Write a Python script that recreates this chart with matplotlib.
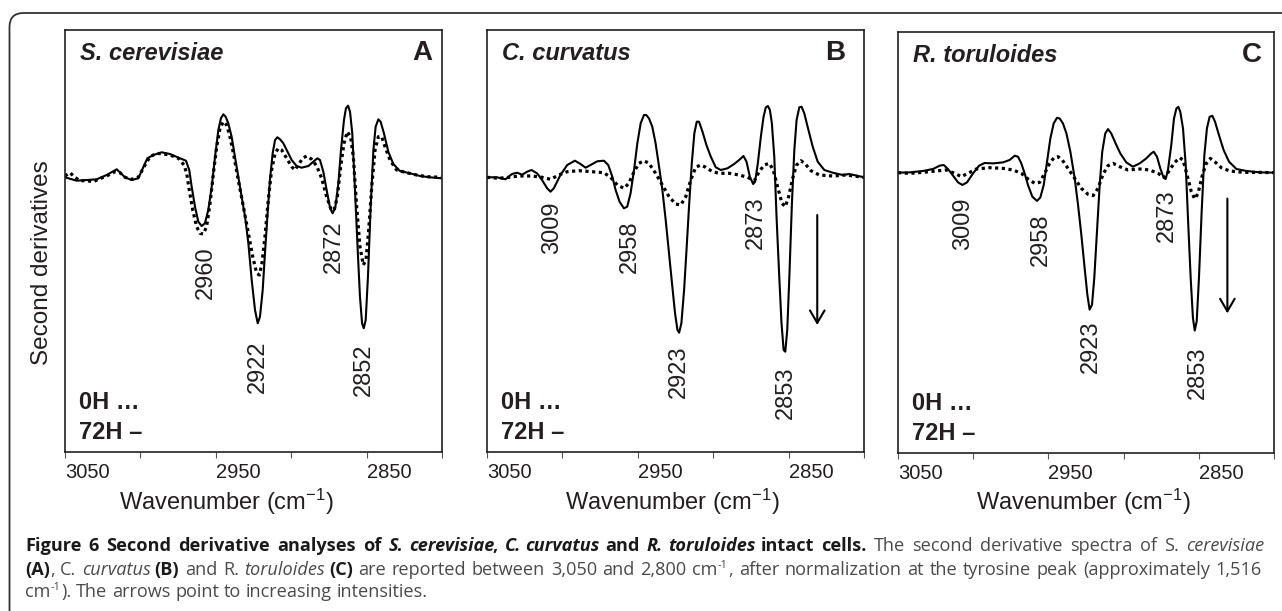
import matplotlib
matplotlib.use('Agg')
import matplotlib.pyplot as plt
from matplotlib.patches import FancyBboxPatch
from matplotlib.transforms import IdentityTransform

plt.rcParams['font.family'] = ['Liberation Sans', 'DejaVu Sans']
plt.rcParams['mathtext.default'] = 'regular'

# ---- data (second derivative, arbitrary units) ----
# S. cerevisiae, 72H (solid)
wn_sc_72h = [3050.0, 3042.3, 3035.6, 3029.0, 3022.4, 3015.7, 3010.2, 3005.8, 3001.4, 2995.4,
             2991.4, 2985.9, 2980.4, 2973.7, 2969.8, 2967.6, 2966.0, 2963.8, 2961.6, 2959.4,
             2957.2, 2955.0, 2952.7, 2950.5, 2948.3, 2946.6, 2945.0, 2943.5, 2941.7, 2939.5,
             2937.3, 2934.0, 2930.6, 2928.4, 2926.2, 2924.0, 2922.2, 2920.7, 2918.9, 2917.4,
             2915.8, 2914.1, 2912.3, 2910.7, 2909.2, 2907.4, 2905.2, 2903.0, 2899.7, 2896.4,
             2893.1, 2888.6, 2885.3, 2882.7, 2880.9, 2878.7, 2876.5, 2874.2, 2872.5, 2870.7,
             2868.7, 2867.0, 2865.0, 2863.7, 2862.3, 2861.0, 2859.5, 2857.7, 2855.9, 2854.4,
             2853.0, 2851.9, 2850.6, 2849.1, 2847.3, 2845.5, 2844.0, 2842.2, 2840.7, 2838.5,
             2835.6, 2832.3, 2827.9, 2821.2, 2814.6, 2808.0, 2800.2]
d2_sc_72h = [0.7, -2.7, -2.0, -1.3, 3.0, 8.7, 0.7, -2.0, -0.3, 19.7,
             23.0, 25.7, 24.0, 19.7, 17.3, 8.0, -8.7, -28.7, -43.7, -48.0,
             -45.3, -32.0, -8.7, 21.3, 48.0, 59.7, 63.7, 61.3, 54.7, 41.3,
             21.3, -8.7, -38.7, -65.3, -102.0, -132.0, -145.3, -138.7, -112.0, -75.3,
             -38.7, -2.0, 24.7, 38.0, 40.7, 38.7, 34.7, 28.0, 18.0, 12.0,
             10.3, 12.0, 16.3, 19.7, 18.0, 6.3, -12.0, -30.3, -35.3, -28.7,
             -5.3, 28.0, 58.0, 69.7, 72.3, 66.3, 44.7, -12.0, -72.0, -118.7,
             -145.3, -150.3, -142.0, -98.7, -28.7, 28.0, 51.3, 58.7, 56.3, 44.7,
             26.3, 14.0, 7.0, 4.7, 2.0, 0.7, -0.3]
# S. cerevisiae, 0H (dotted)
wn_sc_0h = [3050.0, 3046.7, 3043.4, 3040.1, 3035.6, 3031.2, 3027.9, 3022.4, 3016.8, 3013.5,
            3010.2, 3005.8, 3001.4, 2996.9, 2993.6, 2989.2, 2984.8, 2980.4, 2974.8, 2971.1,
            2969.3, 2967.6, 2965.3, 2962.7, 2960.5, 2958.3, 2956.1, 2953.8, 2951.6, 2949.4,
            2947.2, 2945.0, 2942.8, 2940.6, 2937.9, 2935.1, 2931.7, 2928.4, 2925.5, 2922.9,
            2921.1, 2919.4, 2917.4, 2915.2, 2913.0, 2910.7, 2908.5, 2906.3, 2903.0, 2899.7,
            2897.5, 2895.3, 2892.4, 2889.8, 2886.4, 2883.1, 2879.8, 2876.5, 2873.8, 2871.6,
            2869.4, 2867.2, 2865.0, 2862.8, 2860.6, 2858.8, 2856.6, 2854.4, 2852.2, 2850.4,
            2848.6, 2846.6, 2844.4, 2842.2, 2840.0, 2837.8, 2834.5, 2830.1, 2823.5, 2816.8,
            2810.2, 2800.2]
d2_sc_0h = [2.0, 5.3, 0.7, -2.7, -2.7, -3.7, -1.3, 2.0, 6.3, 5.3,
            0.7, -1.3, 0.7, 13.0, 21.3, 24.7, 24.0, 23.0, 19.7, 13.0,
            4.7, -12.0, -32.0, -48.7, -55.3, -56.0, -48.7, -25.3, 4.7, 31.3,
            49.7, 56.3, 53.0, 41.3, 21.3, -2.0, -28.7, -55.3, -78.7, -95.3,
            -97.0, -85.3, -58.7, -22.0, 8.0, 24.7, 29.7, 28.0, 19.7, 11.3,
            8.0, 13.0, 19.7, 22.0, 18.7, 12.0, -0.3, -18.7, -30.3, -32.7,
            -18.7, 11.3, 34.7, 46.3, 41.3, 21.3, -28.7, -68.7, -87.0, -82.0,
            -52.0, -8.7, 28.0, 41.3, 41.3, 31.3, 18.0, 8.0, 5.3, 3.0,
            1.3, 0.7]

# C. curvatus, 72H (solid)
wn_cc_72h = [3050.0, 3043.4, 3037.8, 3033.4, 3030.1, 3026.7, 3023.4, 3020.5, 3016.8, 3013.5,
             3010.1, 3007.9, 3005.7, 3001.3, 2996.8, 2991.7, 2988.0, 2984.6, 2981.3, 2976.9,
             2972.5, 2969.6, 2966.9, 2964.7, 2962.1, 2959.2, 2957.0, 2954.8, 2952.5, 2950.3,
             2948.1, 2945.9, 2944.4, 2942.6, 2940.4, 2938.2, 2935.9, 2933.7, 2931.5, 2929.3,
             2927.1, 2925.3, 2923.7, 2922.6, 2921.1, 2919.3, 2917.7, 2915.9, 2914.2, 2912.5,
             2910.9, 2909.4, 2907.1, 2904.5, 2901.6, 2898.3, 2895.0, 2890.5, 2886.1, 2882.8,
             2879.9, 2877.9, 2875.7, 2873.5, 2872.2, 2870.4, 2868.4, 2866.6, 2865.1, 2863.7,
             2862.4, 2861.1, 2859.5, 2858.0, 2856.2, 2854.7, 2853.3, 2852.2, 2850.9, 2849.5,
             2847.8, 2846.2, 2844.7, 2842.9, 2841.4, 2839.6, 2837.4, 2834.0, 2830.7, 2826.3,
             2820.7, 2814.1, 2809.7, 2800.0]
d2_cc_72h = [0.7, 0.7, -1.3, 4.0, 5.3, 3.3, 6.3, 8.0, 4.7, -2.0,
             -10.3, -13.7, -10.3, 3.0, 13.0, 17.3, 14.0, 10.3, 13.0, 16.7,
             17.3, 13.0, 1.3, -12.0, -23.7, -30.3, -28.7, -15.3, 8.0, 34.7,
             54.7, 63.0, 63.0, 59.7, 51.3, 34.7, 11.3, -12.0, -42.0, -75.3,
             -108.7, -135.3, -152.0, -154.7, -145.3, -112.0, -72.0, -25.3, 14.7, 44.7,
             56.3, 56.3, 46.3, 33.0, 21.3, 10.7, 8.0, 9.7, 14.0, 18.0,
             22.0, 16.3, 1.3, -6.0, -3.7, 14.7, 41.3, 61.3, 70.7, 72.0,
             68.0, 54.7, 21.3, -38.7, -98.7, -145.3, -172.0, -173.7, -152.0, -98.7,
             -25.3, 28.0, 58.0, 70.7, 71.3, 64.7, 51.3, 31.3, 16.3, 8.0,
             5.3, 3.0, 4.0, 0.7]
# C. curvatus, 0H (dotted)
wn_cc_0h = [3050.0, 3042.2, 3035.6, 3029.0, 3020.1, 3013.5, 3007.9, 3002.4, 2996.8, 2989.1,
            2980.2, 2972.5, 2968.1, 2963.6, 2959.2, 2955.9, 2952.5, 2949.2, 2945.9, 2942.6,
            2938.2, 2933.7, 2929.3, 2924.9, 2921.5, 2918.2, 2914.9, 2911.6, 2908.3, 2904.9,
            2900.5, 2896.1, 2889.4, 2882.8, 2877.2, 2872.8, 2869.5, 2866.2, 2862.8, 2860.2,
            2857.3, 2854.4, 2852.2, 2850.0, 2847.3, 2844.7, 2841.8, 2838.9, 2835.2, 2829.6,
            2820.8, 2811.9, 2800.0]
d2_cc_0h = [0.7, -0.3, 0.7, 2.0, 2.0, 0.7, -1.3, 3.0, 6.3, 7.3,
            6.3, 5.3, 0.7, -7.0, -10.3, -5.3, 6.3, 14.7, 17.3, 14.7,
            4.7, -7.0, -18.7, -26.0, -27.0, -18.7, -2.0, 10.7, 13.0, 10.7,
            6.3, 4.7, 4.7, 3.0, 0.7, -2.7, 6.3, 13.0, 14.7, 8.0,
            -8.7, -25.3, -28.7, -18.7, -0.3, 13.0, 17.3, 14.0, 7.3, 3.0,
            2.0, 3.0, 0.7]

# R. toruloides, 72H (solid)
wn_rt_72h = [3050.0, 3042.2, 3033.4, 3026.7, 3022.3, 3019.6, 3016.8, 3013.4, 3010.1, 3007.2,
             3004.1, 3000.1, 2996.1, 2992.4, 2986.8, 2980.2, 2975.8, 2972.4, 2970.2, 2968.0,
             2965.8, 2963.6, 2960.7, 2957.6, 2955.4, 2953.1, 2950.9, 2948.7, 2946.5, 2944.3,
             2942.5, 2940.3, 2938.0, 2935.4, 2932.5, 2930.3, 2928.1, 2925.9, 2924.1, 2922.6,
             2921.0, 2919.5, 2917.7, 2915.9, 2914.2, 2912.2, 2910.4, 2908.2, 2905.3, 2902.2,
             2898.2, 2893.8, 2889.3, 2884.9, 2881.6, 2880.0, 2877.8, 2875.6, 2873.4, 2872.0,
             2870.5, 2868.3, 2866.5, 2864.9, 2863.6, 2862.3, 2860.5, 2858.7, 2857.0, 2855.4,
             2853.9, 2852.7, 2851.4, 2849.9, 2848.1, 2846.3, 2844.6, 2842.8, 2841.0, 2839.2,
             2836.6, 2833.5, 2829.9, 2825.0, 2818.4, 2809.5, 2800.0]
d2_rt_72h = [7.0, 7.3, 8.7, 10.7, 14.0, 14.7, 10.7, 4.0, -2.7, -5.3,
             -2.7, 6.3, 14.0, 16.7, 16.3, 17.3, 19.7, 24.0, 23.0, 16.3,
             6.3, -5.3, -17.0, -21.3, -18.0, -5.3, 18.0, 41.3, 56.3, 62.0,
             61.3, 56.3, 46.3, 28.0, 1.3, -25.3, -55.3, -88.7, -115.3, -130.3,
             -125.3, -98.7, -52.0, -5.3, 28.0, 46.3, 50.7, 46.3, 36.3, 26.3,
             17.3, 13.0, 16.3, 21.3, 26.3, 28.0, 23.0, 11.3, 2.0, 0.7,
             9.7, 34.7, 61.3, 71.3, 73.0, 68.0, 51.3, 14.7, -45.3, -98.7,
             -138.7, -151.3, -142.0, -98.7, -32.0, 24.7, 51.3, 63.0, 64.0, 58.0,
             44.7, 29.7, 18.0, 10.7, 8.7, 7.3, 7.0]
# R. toruloides, 0H (dotted)
wn_rt_0h = [3050.0, 3042.2, 3033.4, 3024.5, 3017.9, 3012.3, 3007.9, 3003.5, 2997.9, 2989.0,
            2980.2, 2973.5, 2968.0, 2963.6, 2959.1, 2955.8, 2952.5, 2949.2, 2946.3, 2943.6,
            2940.8, 2937.0, 2932.5, 2928.1, 2923.7, 2920.3, 2917.0, 2913.7, 2910.4, 2907.0,
            2902.6, 2897.1, 2889.3, 2882.7, 2877.1, 2872.7, 2869.4, 2866.0, 2862.7, 2860.5,
            2857.8, 2855.0, 2852.7, 2850.5, 2847.6, 2845.0, 2842.3, 2839.4, 2835.0, 2829.5,
            2820.6, 2809.5, 2800.0]
d2_rt_0h = [7.0, 6.3, 7.3, 8.7, 9.7, 6.3, 3.0, 6.3, 10.7, 12.0,
            11.3, 9.7, 6.3, 0.7, -3.7, -2.7, 6.3, 16.3, 22.0, 23.0,
            19.7, 11.3, 1.3, -8.7, -14.7, -16.0, -8.7, 5.3, 14.0, 16.3,
            13.0, 9.7, 10.7, 9.7, 6.3, 2.0, 9.7, 17.3, 22.0, 19.7,
            4.7, -12.0, -19.3, -13.7, 4.7, 16.3, 21.3, 18.0, 12.0, 8.7,
            7.3, 7.3, 7.0]

species = ['S. cerevisiae', 'C. curvatus', 'R. toruloides']
panel_letters = ['A', 'B', 'C']
peak_labels = [['2960', '2922', '2872', '2852'],
               ['3009', '2958', '2923', '2873', '2853'],
               ['3009', '2958', '2923', '2873', '2853']]

series = [(wn_sc_0h, d2_sc_0h, wn_sc_72h, d2_sc_72h),
          (wn_cc_0h, d2_cc_0h, wn_cc_72h, d2_cc_72h),
          (wn_rt_0h, d2_rt_0h, wn_rt_72h, d2_rt_72h)]

# label placement (wavenumber, y) per panel
label_pos = [[(2956.5, -95), (2922, -189), (2872, -69), (2852, -192)],
             [(3007, -50), (2955, -69), (2922.5, -194), (2872, -45), (2852, -215)],
             [(3007, -44), (2955, -60), (2921.5, -167), (2871, -36), (2850.5, -194)]]
arrows = [None, (2831, -37, -147), (2831, -19, -134)]

W, H = 1282, 611
ink = '#231f20'
fig = plt.figure(figsize=(W / 100, H / 100), dpi=100)

ax_px = [(65, 442, 30, 452), (487, 864, 30, 452), (898, 1274, 32, 453)]
letter_pad = [10, 19, 12]
xlabel_center = [226, 672, 1083]

for i, (l, r, t, b) in enumerate(ax_px):
    ax = fig.add_axes([l / W, 1 - b / H, (r - l) / W, (b - t) / H])
    wn0, y0, wn72, y72 = series[i]
    ax.plot(wn0, y0, color='black', lw=2.3, ls=(0, (1, 1.1)))
    ax.plot(wn72, y72, color='black', lw=1.5, solid_joinstyle='round')
    ax.set_xlim(3050, 2800)
    ax.set_ylim(-274, 148)
    ax.set_yticks([])
    ax.set_xticks([3050, 3000, 2950, 2900, 2850, 2800])
    ax.set_xticklabels(['3050', '', '2950', '', '2850', ''], ha='left')
    ax.tick_params(axis='x', direction='out', length=4, width=0.8, colors='#555555',
                   labelcolor=ink, labelsize=14.5, pad=4)
    for sp in ax.spines.values():
        sp.set_color(ink)
        sp.set_linewidth(1.2)

    ax.text(15 / (r - l), 1 - 23 / (b - t), species[i], transform=ax.transAxes,
            fontsize=17, weight='bold', style='italic', color=ink, ha='left', va='center')
    ax.text(1 - letter_pad[i] / (r - l), 1 - 23 / (b - t), panel_letters[i], transform=ax.transAxes,
            fontsize=20, weight='bold', color=ink, ha='right', va='center')
    ax.text(14 / (r - l), 0.118, '0H \u2026', transform=ax.transAxes,
            fontsize=17, weight='bold', color=ink, ha='left', va='center')
    ax.text(14 / (r - l), 0.047, '72H \u2013', transform=ax.transAxes,
            fontsize=17, weight='bold', color=ink, ha='left', va='center')

    for lab, (x, y) in zip(peak_labels[i], label_pos[i]):
        ax.text(x, y, lab, rotation=90, fontsize=17, color=ink, ha='center', va='center')

    if arrows[i] is not None:
        ax_x, y_top, y_bot = arrows[i]
        ax.annotate('', xy=(ax_x, y_bot), xytext=(ax_x, y_top),
                    arrowprops=dict(arrowstyle='->,head_length=0.6,head_width=0.35',
                                    lw=1.5, color='black', mutation_scale=15,
                                    shrinkA=0, shrinkB=0))

    ax.text((xlabel_center[i] - l) / (r - l), -(502 - b) / (b - t), 'Wavenumber (cm$^{-1}$)',
            transform=ax.transAxes, fontsize=17, color=ink, ha='center', va='center')

fig.text(42 / W, 1 - 263 / H, 'Second derivatives', rotation=90, fontsize=17.5,
         color=ink, ha='center', va='center')

# outer frame with rounded top-left corner
frame = FancyBboxPatch((9.5, -60), 1400, 611 - 13 + 60, boxstyle='round,pad=0,rounding_size=14',
                       transform=IdentityTransform(), fill=False, ec='#333333', lw=1.3)
fig.add_artist(frame)

# ---- caption with mixed styles, justified like the journal layout ----
cap_font = ['Open Sans', 'DejaVu Sans']
cap_size = 13.1
dark = '#1a1a1a'
grey = '#4a4a4a'
styles = {
    'b': dict(weight='bold', style='normal', color=dark),
    'bi': dict(weight='bold', style='italic', color=dark),
    'r': dict(weight='normal', style='normal', color=grey),
    'i': dict(weight='normal', style='italic', color=grey),
}
renderer = fig.canvas.get_renderer()


def width_of(s, st, size=cap_size):
    t = fig.text(0, 0, s, fontsize=size, family=cap_font, **styles[st])
    w = t.get_window_extent(renderer).width
    t.remove()
    return w


def split_words(runs):
    # -> list of (word, style, space_before)
    out = []
    pending = False
    for s, st in runs:
        if st == 'sup':
            out.append((s, st, pending))
            pending = False
            continue
        parts = s.split(' ')
        for k, p in enumerate(parts):
            if k > 0:
                pending = True
            if p:
                out.append((p, st, pending))
                pending = False
    return out


def draw_line(x, y, runs, right=None):
    items = split_words(runs)
    adv = []
    for p, st, sp in items:
        if st == 'sup':
            adv.append(width_of(p, 'r', cap_size * 0.6) + 1)
        else:
            # advance of a word = ink(pp) - ink(p); italic ink leans right, pull back a little
            a = width_of(p + p, st) - width_of(p, st)
            if st in ('i', 'bi'):
                a -= 2
            adv.append(a)
    spw = width_of('n n', 'r') - width_of('nn', 'r')
    n_sp = sum(1 for it in items if it[2])
    extra = 0
    if right is not None and n_sp:
        natural = sum(adv) + n_sp * spw
        extra = (right - x - natural) / n_sp
    for (p, st, sp), a in zip(items, adv):
        if sp:
            x += spw + extra
        if st == 'sup':
            fig.text(x / W, 1 - (y - 7) / H, p, fontsize=cap_size * 0.6, family=cap_font,
                     va='baseline', **styles['r'])
        else:
            fig.text(x / W, 1 - y / H, p, fontsize=cap_size, family=cap_font,
                     va='baseline', **styles[st])
        x += a


line1 = [('Figure 6 Second derivative analyses of ', 'b'), ('S. cerevisiae', 'bi'), (',', 'b'),
         (' C. curvatus', 'bi'), (' and ', 'b'), ('R. toruloides', 'bi'), (' intact cells.', 'b'),
         (' The second derivative spectra of ', 'r'), ('S. ', 'r'), ('cerevisiae', 'i')]
line2 = [('(A)', 'b'), (', C. ', 'r'), ('curvatus', 'i'), (' ', 'r'), ('(B)', 'b'), (' and R. ', 'r'),
         ('toruloides', 'i'), (' ', 'r'), ('(C)', 'b'),
         (' are reported between 3,050 and 2,800 cm', 'r'), ('-1', 'sup'),
         (', after normalization at the tyrosine peak (approximately 1,516', 'r')]
line3 = [('cm', 'r'), ('-1', 'sup'), ('). The arrows point to increasing intensities.', 'r')]

draw_line(25, 551, line1, right=1262)
draw_line(25, 575, line2, right=1262)
draw_line(25, 597, line3)

fig.savefig('out.png', dpi=100)
